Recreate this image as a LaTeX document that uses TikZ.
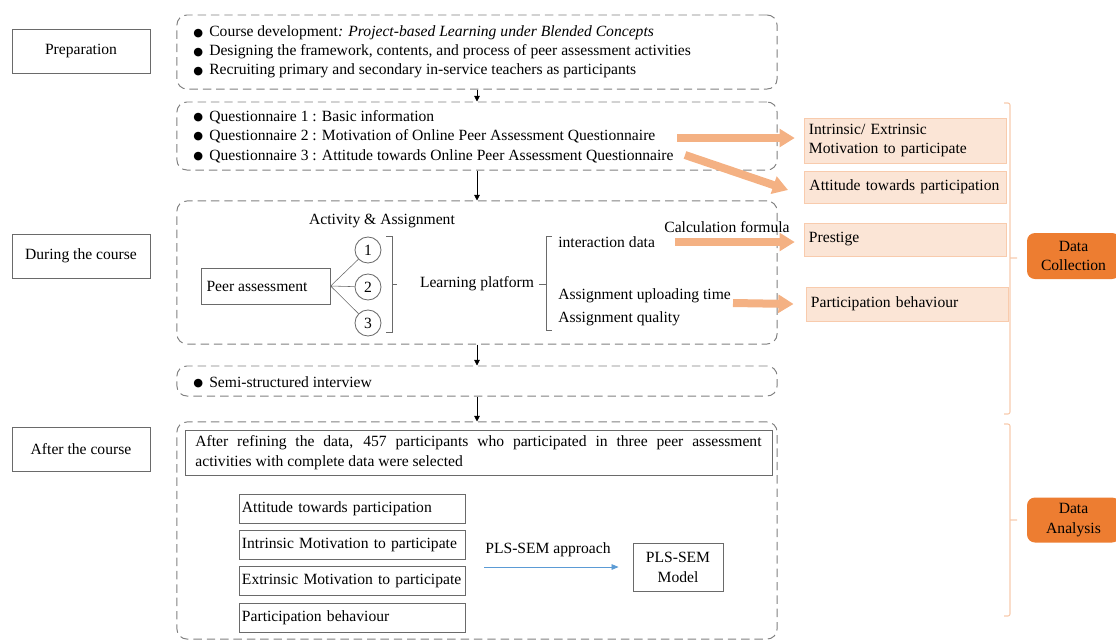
\documentclass[tikz,border=0pt]{standalone}
\usepackage{fontspec}
\setmainfont{Liberation Serif}
\newfontfamily\symfont{DejaVu Sans}
\usetikzlibrary{arrows.meta,calc}

\definecolor{dashgray}{HTML}{808080}
\definecolor{boxgray}{HTML}{6A6A6A}
\definecolor{lightor}{HTML}{FBE5D6}
\definecolor{lightorline}{HTML}{F8CBAD}
\definecolor{arrowor}{HTML}{F4B183}
\definecolor{darkor}{HTML}{ED7D31}
\definecolor{plsblue}{HTML}{5B9BD5}

\newcommand{\bul}{\makebox[0.4cm][l]{\raisebox{0.1ex}{\symfont\fontsize{8}{8}\selectfont ●}}}

\tikzset{
  dbox/.style={draw=dashgray, dash pattern=on 6pt off 3.5pt, rounded corners=0.25cm, line width=0.7pt, minimum width=15cm},
  sbox/.style={draw=boxgray, line width=0.6pt},
  stage/.style={sbox, minimum width=3.45cm, minimum height=1.1cm},
  item/.style={anchor=west, inner sep=0pt},
  obox/.style={fill=lightor, draw=lightorline, line width=0.6pt, minimum width=5.05cm, text width=4.8cm, align=left},
  ybox/.style={sbox, minimum width=5.65cm, minimum height=0.725cm, inner xsep=0.075cm, text width=5.5cm, align=left},
  datab/.style={fill=darkor, rounded corners=0.2cm, minimum width=2.325cm, align=center},
  fatarrow/.style={arrowor, line width=0.2cm, -{Triangle[width=0.44cm,length=0.38cm]}},
  down/.style={line width=0.5pt, -{Triangle[width=4pt,length=4pt]}},
  brace/.style={draw=lightorline, line width=0.8pt, rounded corners=1.5pt}
}

\begin{document}
\begin{tikzpicture}[x=0.025cm, y=-0.025cm, font=\fontsize{11.1}{13.8}\selectfont]
    \useasboundingbox (0,0) rectangle (1116,640);

    % stages on the left
    \node[stage] (prep) at (81,51) {Preparation};
    \node[stage] (during) at (81,256) {During the course};
    \node[stage] (after) at (81,449) {After the course};

    % dashed frames
    \node[dbox, minimum height=1.85cm] (b1) at (477,52) {};
    \node[dbox, minimum height=1.7cm] (b2) at (477,136) {};
    \node[dbox, minimum height=3.575cm] (b3) at (477,272.5) {};
    \node[dbox, minimum height=0.75cm] (b4) at (477,381) {};
    \node[dbox, minimum height=5.425cm] (b5) at (477,530.5) {};

    \draw[down] (b1.south) -- (b2.north);
    \draw[down] (b2.south) -- (b3.north);
    \draw[down] (b3.south) -- (b4.north);
    \draw[down] (b4.south) -- (b5.north);

    \node[item] (p1) at (193,33) {\bul Course development\textit{: Project-based Learning under Blended Concepts}};
    \node[item] (p2) at (193,52) {\bul Designing the framework, contents, and process of peer assessment activities};
    \node[item] (p3) at (193,71) {\bul Recruiting primary and secondary in-service teachers as participants};

    \node[item] (q1) at (193,117) {\bul Questionnaire 1 : Basic information};
    \node[item] (q2) at (193,136) {\bul Questionnaire 2 : Motivation of Online Peer Assessment Questionnaire};
    \node[item] (q3) at (193,156) {\bul Questionnaire 3 : Attitude towards Online Peer Assessment Questionnaire};

    % during the course
    \node (act) at (382,221) {Activity \& Assignment};
    \node[sbox, minimum width=3.175cm, minimum height=0.9cm, align=left] (peer) at (266,286) {Peer assessment\hspace*{0.45cm}};
    \node[sbox, circle, minimum size=0.65cm, inner sep=0pt] (c1) at (368,250) {1};
    \node[sbox, circle, minimum size=0.65cm, inner sep=0pt] (c2) at (368,287) {2};
    \node[sbox, circle, minimum size=0.65cm, inner sep=0pt] (c3) at (368,323) {3};
    \draw[boxgray, line width=0.4pt] (peer.east) -- (c1) (peer.east) -- (c2) (peer.east) -- (c3);
    \draw[boxgray, line width=0.4pt] (386,236) -- (392,236) -- (392,332) -- (386,332) (392,284) -- (397,284);
    \node (lp) at (477,284) {Learning platform};
    \draw[boxgray, line width=0.4pt] (539,284) -- (546,284) (552,236) -- (546,236) -- (546,330) -- (552,330);
    \node[item] (inter) at (558,242) {interaction data};
    \node[item] (upl) at (558,296) {Assignment uploading time};
    \node[item] (qual) at (558,319) {Assignment quality};
    \node (calc) at (727,227) {Calculation formula};

    \node[item] (semi) at (193,382) {\bul Semi-structured interview};

    % collected data
    \node[obox, minimum height=1.125cm] (motiv) at (905,140.5) {Intrinsic/ Extrinsic\\Motivation to participate};
    \node[obox, minimum height=0.8cm] (attpart) at (905.5,187) {Attitude towards participation};
    \node[obox, minimum height=0.825cm] (prest) at (905,239.5) {Prestige};
    \node[obox, minimum height=0.85cm] (partbeh) at (907,304) {Participation behaviour};

    \coordinate (a1) at ($(q2.west)+(484,2)$);
    \coordinate (a2) at ($(q3.west)+(492,-1)$);
    \coordinate (a3) at ($(inter.west)+(117,0)$);
    \coordinate (a4) at ($(upl.west)+(175,7)$);
    \draw[fatarrow, shorten >=0.22cm] (a1) -- (a1 -| motiv.west);
    \draw[fatarrow] (a2) -- ($(attpart.west)+(-16,3)$);
    \draw[fatarrow, shorten >=0.22cm] (a3) -- (a3 -| prest.west);
    \draw[fatarrow] (a4) -- ($(partbeh.west)+(-12,0)$);

    % braces and phases
    \draw[brace] (1004,103) -- (1010,103) -- (1010,414) -- (1004,414) (1010,258) -- (1017,258);
    \draw[brace] (1004,424) -- (1010,424) -- (1010,616) -- (1004,616) (1010,520) -- (1017,520);
    \node[datab, minimum height=1.15cm] (dcol) at (1073.5,256) {Data\\Collection};
    \node[datab, minimum height=1.125cm] (danal) at (1073.5,520) {Data\\Analysis};

    % after the course
    \node[sbox, minimum width=14.675cm, minimum height=1.125cm, text width=14.15cm, align=justify] (refine) at (478.5,452.5)
        {After refining the data, 457 participants who participated in three peer assessment\linebreak activities with complete data were selected};
    \node[ybox] (y1) at (352,508.5) {Attitude towards participation};
    \node[ybox] (y2) at (352,544.5) {Intrinsic Motivation to participate};
    \node[ybox] (y3) at (352,580.5) {Extrinsic Motivation to participate};
    \node[ybox] (y4) at (352,617.5) {Participation behaviour};
    \node[sbox, minimum width=2.25cm, minimum height=1.2cm, align=center] (plsm) at (678,567.5) {PLS-SEM\\Model};
    \coordinate (plsstart) at (484,567);
    \draw[plsblue, line width=0.6pt, -{Triangle[width=4pt,length=5pt]}, shorten >=0.35cm] (plsstart) -- (plsstart -| plsm.west);
    \node (plsa) at (548,550) {PLS-SEM approach};
\end{tikzpicture}
\end{document}
